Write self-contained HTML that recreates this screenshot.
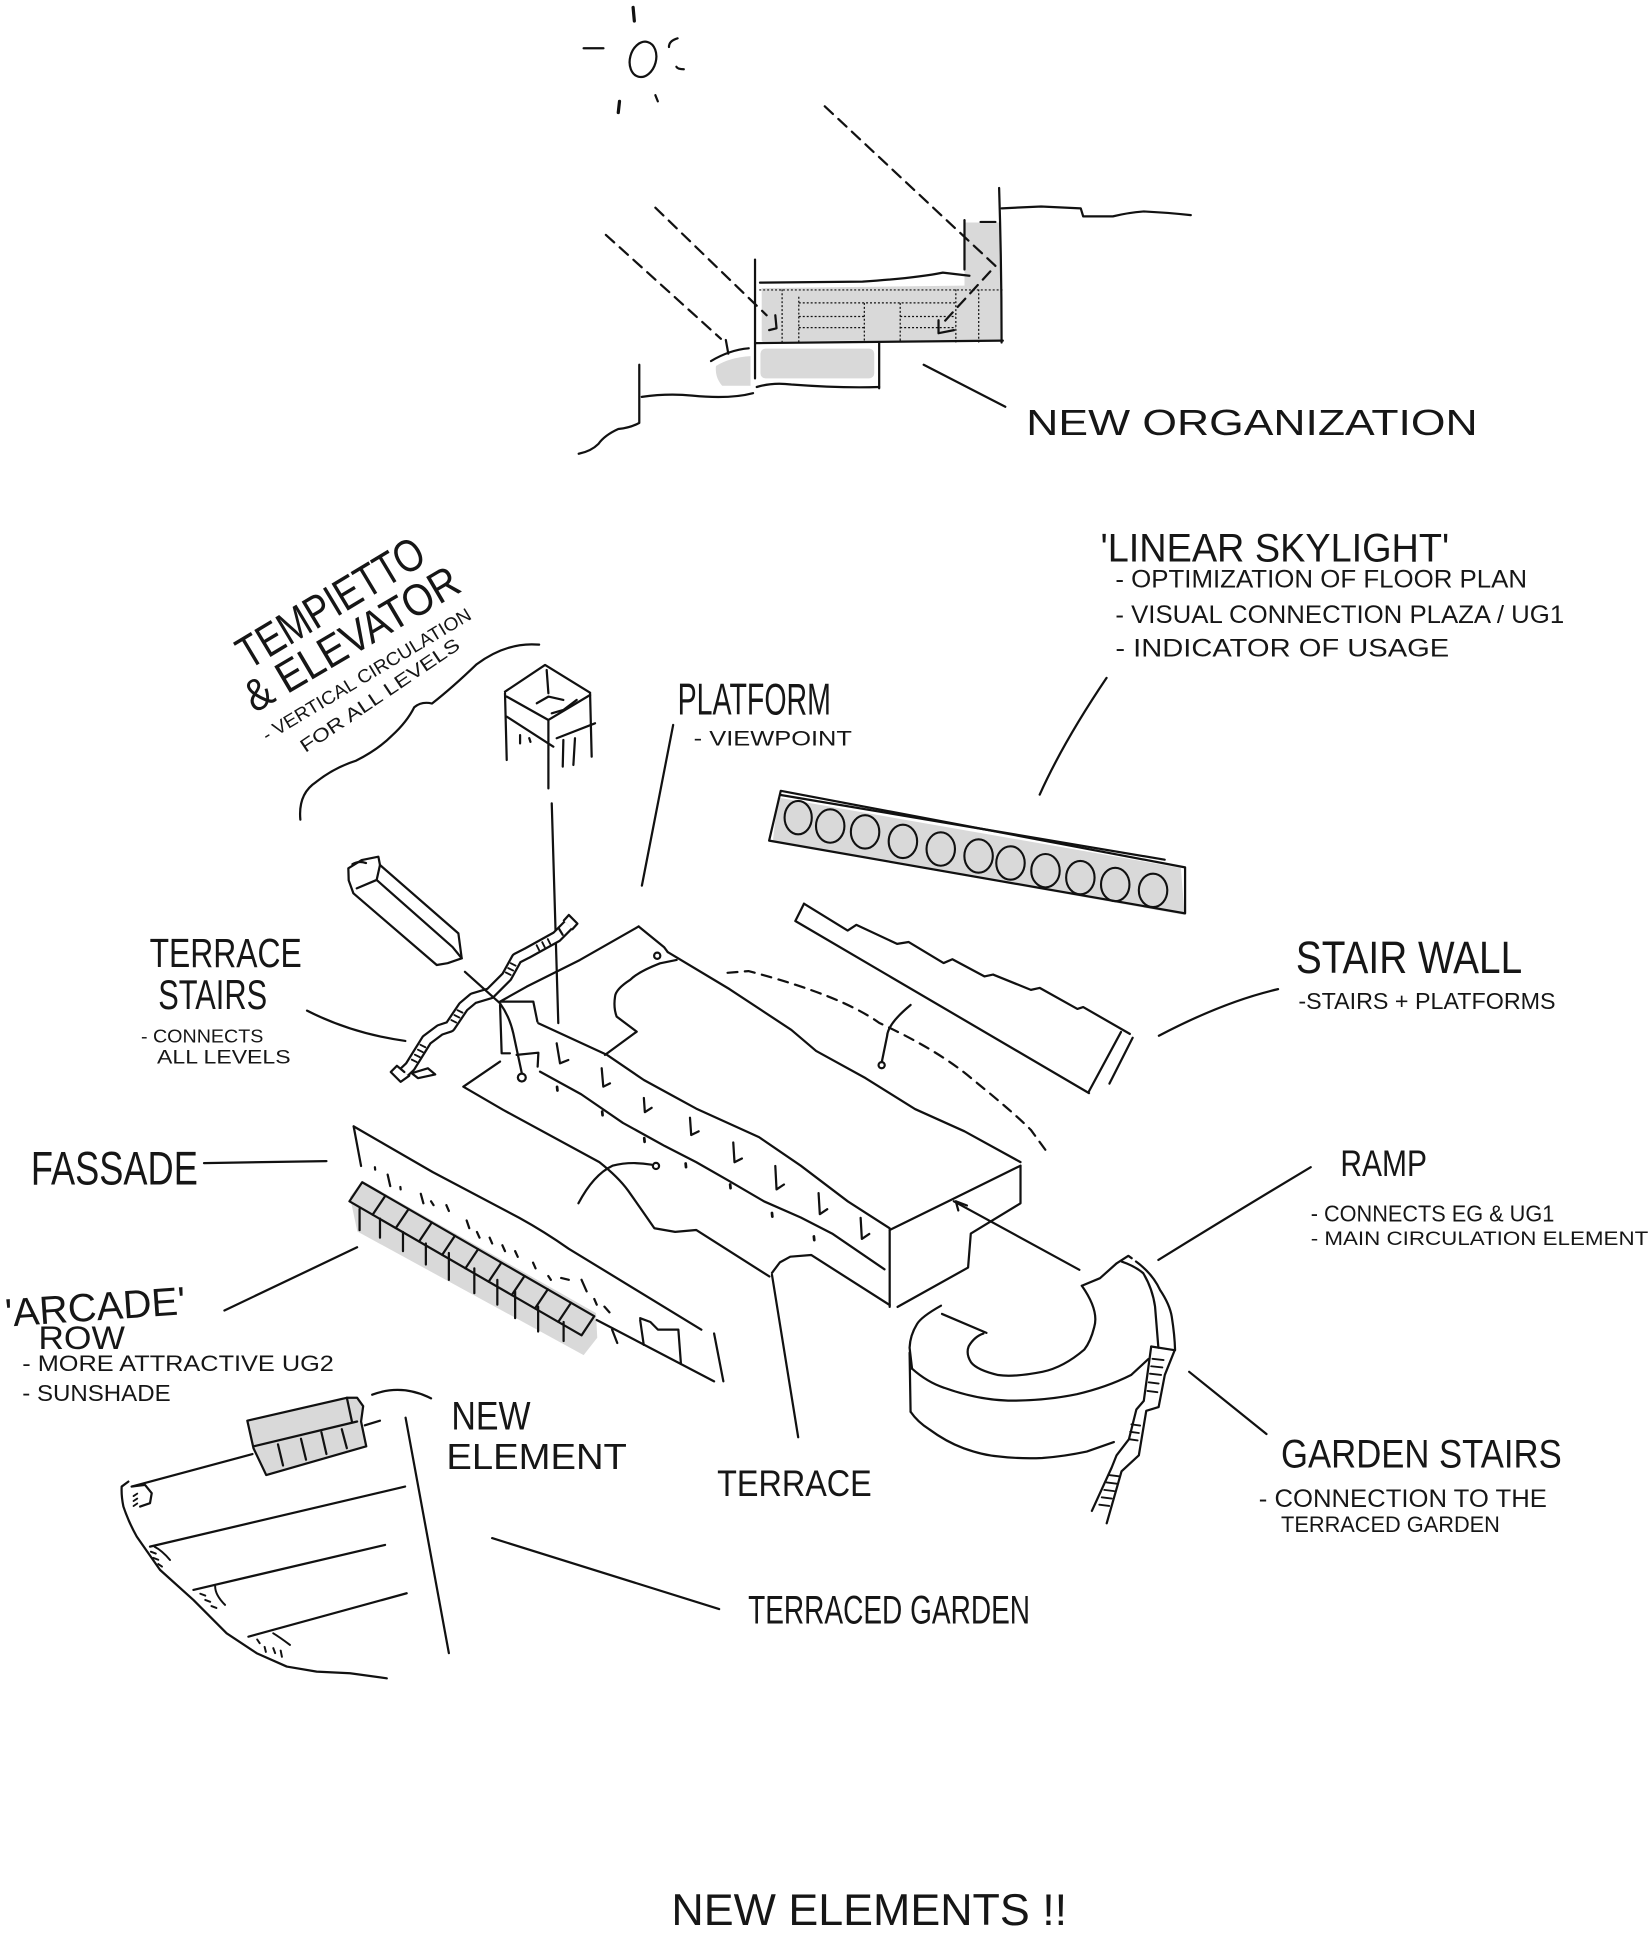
<!DOCTYPE html>
<html><head><meta charset="utf-8">
<style>
html,body{margin:0;padding:0;background:#fff;}
svg{display:block;}
text{font-family:"Liberation Sans",sans-serif;fill:#161616;}
</style></head><body>
<svg width="1652" height="1935" viewBox="0 0 1336 1565" preserveAspectRatio="none" xmlns="http://www.w3.org/2000/svg">
<rect x="0" y="0" width="1336" height="1565" fill="#fff"/>

<!-- gray fills -->
<g fill="#d9d9d9" stroke="none">
  <path d="M616,233 L780,231 L780,180 L809,180 L809,275 L616,276 Z"/>
  <rect x="615" y="282" width="92" height="24" rx="4"/>
  <path d="M579,296 Q590,289 607,288 L607,312 L584,312 Q578,305 579,296 Z"/>
  <path d="M629,645 L955,702 L958,740 L625,681 Z"/>
  <path d="M283,968 L293,955 L482,1062 L483,1082 L472,1096 L289,996 Z"/>
  <path d="M200,1149 L280.5,1130.5 L288.8,1130.5 L293.7,1137.3 L292,1149.7 L296.2,1169.8 L215.3,1193 L205,1171.3 Z"/>
</g>

<g fill="none" stroke="#111" stroke-width="1.8" stroke-linecap="round" stroke-linejoin="round">

<!-- ===== TOP SECTION ===== -->
<!-- sun -->
<ellipse cx="520" cy="48" rx="10.5" ry="14.5" transform="rotate(15 520 48)"/>
<path d="M512,6 L513,17" stroke-width="2.6"/>
<path d="M472,39 L488,39"/>
<path d="M548,31 Q541,33 541,38"/>
<path d="M547,54 Q548,56 553,56"/>
<path d="M501,82 L500,91" stroke-width="2.6"/>
<path d="M530,77 L532,82"/>

<!-- sun rays dashed -->
<g stroke-dasharray="9 6">
  <path d="M667,86 L805,215 L761,263"/>
  <path d="M530,168 L620,255"/>
  <path d="M490,190 L583,274"/>
</g>
<path d="M759,259 L759,269.5 L771.5,267"/>
<path d="M627,255 L628,265.5 L622,267"/>
<path d="M587,275 L589,286"/>
<path d="M575,292 Q590,283 605.5,281.7"/>

<!-- building -->
<path d="M808,152 Q810,215 810,277"/>
<path d="M810,168.5 L842,167 L874,168.5 L876,175 L900,175 Q912,172 925,171 Q945,172 963,174"/>
<path d="M780,178 L780,218"/>
<path d="M793,179.5 L805,179.5"/>
<path d="M614.6,228.6 L697.5,227.8 Q740,225 762.5,220.5 L784,223"/>
<path d="M610.6,210 L610.6,306"/>
<path d="M610.6,277.5 L811,275.5"/>
<path d="M711,277 L711,314"/>
<path d="M612,313 Q625,309 640,311 Q680,314 711,313"/>
<path d="M517,295 L517,342 Q510,346 500,347 Q489,352 484,359 Q478,365 468,367"/>
<path d="M519,321 Q540,318 560,320 Q590,323 609,318"/>
<path d="M747,295 L813,329"/>
<path d="M614,234.5 L811,234.5 M632.5,234 V277 M646,240 V277 M699,245 V277 M728,245 V277 M773,234 V277 M791.5,234 V277 M646,245 H773 M646,256 H699 M728,256 H773 M646,265 H699 M728,265 H773" stroke-width="1" stroke-dasharray="1.6 1.6" stroke-linecap="butt"/>

<!-- ===== TEMPIETTO ===== -->
<path d="M408.4,559.4 L440.8,537.8 L477.2,560.2"/>
<path d="M409.8,563.4 L443.5,582.3 L477.2,562.1"/>
<path d="M442.1,541.9 L443.5,560.7 M434.1,568.8 L443.5,563.4 L455.6,566.1 M446.2,576.9 L455.6,574.2 L466.4,566.1"/>
<path d="M408.4,560.7 L409.8,614.7 M443.5,582.3 L443.5,637.6 M477.2,560.7 L478.5,612"/>
<path d="M409.8,579.6 L447.5,603.9 M450.2,597.1 L481.2,585"/>
<path d="M420.6,594.5 L420.6,601.2 M428,597 L429,600 M455.6,598.5 L455.1,620 M465,597.1 L463.7,618.7"/>
<path d="M446.2,649.7 L451.5,827.5"/>
<path d="M242.9,662.9 Q241,642 255.6,632.5 Q270,621 288,615.2 Q306,606 316.9,595 Q329,584 335,572 Q341,567 349.4,569 Q366,556 385.5,537.2 Q410,519 436,521.4"/>

<!-- rail element -->
<path d="M292.5,695.6 L306,692.9 L307.3,699.6 L370.7,754.9 L373.4,775.1 L362,779 L353.2,780.5 L285.8,722.5 L282,712 L281.7,702.3 Z"/>
<path d="M288.5,718.5 L304.6,711.7 L307.3,699.6 M304.6,711.7 L366,766 L373.4,775.1"/>
<path d="M285,699 Q290,696 296,698"/>

<!-- terrace stairs band -->
<path d="M459.6,748.1 L450.2,757.6 L426,771 L417.9,775.1 L409.8,789.9 L396.3,803.4 L382.8,807.4 L374.7,814.2 L363.9,830.3 L355.8,833 L345,841.1 L331.6,862.7 L327,867" stroke-width="10" stroke-linecap="butt" stroke-linejoin="round"/>
<path d="M459.6,748.1 L450.2,757.6 L426,771 L417.9,775.1 L409.8,789.9 L396.3,803.4 L382.8,807.4 L374.7,814.2 L363.9,830.3 L355.8,833 L345,841.1 L331.6,862.7 L327,867" stroke="#fff" stroke-width="6.4" stroke-linecap="butt" stroke-linejoin="round"/>
<path d="M456,744.5 L460,740 L467,747 L463,751.5"/>
<path d="M327,867 L321,862 L316,867 L324,875 L331,870"/>
<path d="M333,868 L346,864 L352,869 L338,872 Z"/>
<path d="M443,759.5 L445,763.5 M438.5,762 L440.5,766 M434,764.5 L436,768.5 M413,779 L417,781 M411,783 L415,785 M409,786.5 L413,788.5 M370,817 L374,819 M367.5,821 L371.5,823 M365,825 L369,827 M340,845 L344,847 M338,849 L342,851 M335.5,853 L339.5,855 M333,857 L337,859" stroke-width="1.5"/>
<path d="M452,751 L455,756"/>
<!-- crossing line -->
<path d="M376,786 L404.4,811.5 Q412,822 415.1,835.7 L421.9,867.5"/>
<circle cx="422" cy="871.5" r="3.2"/>

<!-- ===== PLATFORM SLAB ===== -->
<path d="M516.5,749.3 L469,776.4 L425.9,798 L404.4,810.1 L431.3,810.1 L434.6,826.3"/>
<path d="M404.4,812.8 L405.7,851.9 L412.4,851.9 M417.8,853.2 L435.4,851.4 L434.8,862.7"/>
<path d="M516.5,749.3 L537,766 L540,770"/>
<circle cx="531.5" cy="773" r="2.5"/>
<path d="M540,770 L590,800 L640,833 L660,850 L700,872 L740,897 L780,915 L825.3,939.9"/>
<path d="M547.2,776.4 L533.8,779.1 Q516,786 509.5,792.6 Q498,800 497.4,806 Q496,815 498.7,822.2 L514.9,834.4 L489.3,853.2"/>
<path d="M435.4,827.6 L491.1,853.3 L520.7,873.5 L541.8,885 L563,896.6 L613.8,919.7 L647.6,942.8 L685.7,971.7 L719.5,993.4"/>
<path d="M719.5,994.8 L770,970 L825.3,942.8"/>
<path d="M436.7,866.7 L470,885 L503.8,908.2 L537.6,926.9 L563,939.9 L588.4,954.4 L618,971.7 L647.6,984.7 L673,997.7 L715.3,1026.6"/>
<path d="M719.5,994.8 L719.5,1057"/>
<path d="M825.3,942.8 L825.3,973.2 L785.1,997.7 L782.9,1025.2 L725.9,1057"/>
<path d="M624.3,1029.5 L630.7,1021 L639.1,1016.4 L656,1015 L719.5,1055.5"/>
<!-- terrace -->
<path d="M404.4,858.6 L374.7,878.9 L407,897.7 L484.7,939.9 Q500,952 508,963 Q520,980 529.2,993.4 L546,996.3 L563,994.8 L622.2,1032.4"/>
<path d="M467.8,973.2 Q480,950 495.3,942.8 Q510,939 527,942"/>
<circle cx="530.5" cy="943" r="2.5"/>
<path d="M624.3,1031 L645.5,1162.4"/>
<!-- L marks -->
<path d="M450.2,843.8 L452.9,860 L459.6,857.3 M486.6,864 L487.9,878.9 L493.3,876.2 M520.7,888 L521.5,899.5 L527,896 M558,904 L559,918 L565,915 M593,924 L594,940 L600,937 M627,943 L628,962 L634,958 M662,965 L663,982 L669,978 M696,985 L697,1002 L703,998"/>
<path d="M450.5,879 L450.8,882 M487,899 L487.3,902 M521,920.5 L521.3,923.5 M554.5,941 L554.8,944 M590.5,958 L590.8,961 M624.3,981 L624.6,984 M658.2,1000 L658.5,1003" stroke-width="2.2"/>
<!-- dashed arc -->
<path d="M588.4,786.8 L605.3,785.4 Q680,805 711,827.3 Q760,850 787.2,873.5 Q820,900 833.7,913.9 L846.4,931.3" stroke-dasharray="8 6"/>
<path d="M736.4,812.8 Q718,828 717.4,838 L713.2,858.5"/>
<circle cx="713" cy="861.5" r="2.5"/>

<!-- ===== STAIR WALL ===== -->
<path d="M650.2,730.9 L685.5,752.6 L692.6,748 L725.5,763.4 L734.9,761.9 L763.1,778.9 L770.2,775.8 L796.1,789.7 L803.1,788.2 L833.7,800.6 L840.8,799 L871.3,816 L876,814.5 L913.7,836.2"/>
<path d="M650.2,730.9 L643.2,744.9 L880.7,884.1"/>
<path d="M906.6,834.6 L880.7,882.6 M916,839.3 L897.2,876.4"/>

<!-- ===== SKYLIGHT ===== -->
<path d="M631.4,639.6 L958.4,701.5 L958.4,738.7 L622,679.9 Z"/>
<path d="M631.4,643 L941.9,695.3"/>
<g stroke-width="1.7">
<ellipse cx="645.5" cy="661.3" rx="11" ry="13.5"/>
<ellipse cx="671.4" cy="668.1" rx="11.5" ry="13.5"/>
<ellipse cx="699.6" cy="672.8" rx="11.5" ry="13.5"/>
<ellipse cx="730.2" cy="680.5" rx="11.5" ry="13.5"/>
<ellipse cx="760.8" cy="686.7" rx="11.5" ry="13.5"/>
<ellipse cx="791.4" cy="692.3" rx="11.5" ry="13.5"/>
<ellipse cx="817.2" cy="698" rx="11.5" ry="13.5"/>
<ellipse cx="845.5" cy="704.2" rx="11.5" ry="13.5"/>
<ellipse cx="873.7" cy="709.8" rx="11.5" ry="13.5"/>
<ellipse cx="901.9" cy="715.4" rx="11.5" ry="13.5"/>
<ellipse cx="932.5" cy="720.1" rx="11.5" ry="13.5"/>
</g>

<!-- ===== FASSADE ===== -->
<path d="M286,911 L350,948 L420,985 Q440,996 460,1010 L567.2,1075.4"/>
<path d="M286,911 L292,943"/>
<path d="M482.6,1067.6 L577.5,1117.2"/>
<path d="M577.5,1078.5 L585,1117.2"/>
<path d="M517.7,1067.6 L520.6,1087.7 M517.7,1066.1 L526,1069.2 L532.1,1075.4 L548.6,1075.4 L550.7,1103.2"/>
<path d="M303.2,944 L303.4,946 M313.5,950 L315.6,959.3 M323.8,960 L324,962 M340.3,965.5 L342.4,973.2 M348.6,971.6 L350.6,974.7 M361,974.7 L363,979.4 M377.4,987.1 L379.5,993.3 M385.7,996.4 L387.8,1001 M396,1001 L398,1005.7 M406.3,1007.2 L408.4,1011.9 M416.6,1011.9 L418.7,1016.5 M431.1,1021.2 L433.1,1025.8 M443.4,1032 L445.5,1035.1 M453.8,1033.6 L460,1035.1 M470.3,1035.1 L474.4,1044.4 M480.6,1050.6 L482.6,1055.2 M488.8,1056.8 L492.9,1061.4 M495,1075.4 L499.2,1086.2"/>

<!-- ===== ARCADE ===== -->
<path d="M292.9,956.2 L480.6,1064.5 L470.3,1080 L282.6,971.6 Z"/>
<path d="M311.7,967 L301.4,982.4 M330.4,977.9 L320.1,993.2 M349.2,988.7 L338.9,1004.1 M367.9,999.5 L357.6,1014.9 M386.7,1010.3 L376.4,1025.8 M405.5,1021.2 L395.2,1036.6 M424.2,1032 L413.9,1047.4 M443,1042.8 L432.7,1058.2 M461.8,1053.7 L451.5,1069.1"/>
<path d="M290.8,977.8 L290.8,994.9 M307.3,985.6 L307.3,1001 M325.9,996.4 L325.9,1011.9 M344.4,1005.7 L344.4,1022.7 M363,1013.4 L363,1035.1 M383.6,1025.8 L383.6,1045.9 M402.2,1035.1 L402.2,1055.2 M416.6,1044.4 L416.6,1066.1 M435.2,1056.8 L435.2,1076.9 M455.8,1069.2 L455.8,1084.6"/>

<!-- ===== NEW ELEMENT ===== -->
<path d="M200,1149 L280.5,1130.5 L288.8,1130.5 L293.7,1137.3 L292,1149.7 L296.2,1169.8 L215.3,1193 L205,1171.3 Z"/>
<path d="M205,1169.8 L288.8,1149.7 M280.5,1130.5 L284.6,1149.7"/>
<path d="M224.8,1168.2 L228.9,1185.3 M243.4,1163.6 L247.5,1180.6 M259.9,1158.3 L264,1176 M276.4,1155.9 L280.5,1171.3"/>
<path d="M204.2,1176 L106.5,1202.3"/>
<path d="M295,1152.8 L307.3,1149"/>
<path d="M301,1128 Q325,1119 348.6,1131"/>
<path d="M328,1146.6 L363,1337"/>

<!-- ===== TERRACED GARDEN ===== -->
<path d="M103.8,1198.3 L98.4,1202.3 Q98,1210 99.8,1218.5 Q104,1231 110.6,1242.8 L129.4,1269.7 L156.4,1294 L183.3,1321 L207.6,1337.1 L231.9,1347.9 L256.1,1352 L283.1,1353.3 L312.8,1357.4"/>
<path d="M121.3,1250.9 L327.6,1202.3"/>
<path d="M156.4,1285.9 L311.4,1249.5"/>
<path d="M200.9,1323.7 L328.9,1288.6"/>
<path d="M106.5,1202.3 L117.3,1201 L122.7,1207.7 L121.3,1215.8 L113.3,1218.5"/>
<path d="M108,1218 L111,1216 M108,1214 L111,1212 M108,1210 L111,1208" stroke-width="1.5"/>
<path d="M125,1251 Q131,1254 137.5,1261.7 M122,1255 L126,1256.5 M124,1260 L128,1261.5 M128,1265 L131,1267" stroke-width="1.6"/>
<path d="M174,1283 Q174,1290 182,1298 M162,1289 L166,1290.5 M166,1294 L170,1295.5 M171,1299 L175,1300.5" stroke-width="1.6"/>
<path d="M221,1321 Q226,1324 234.5,1330.4 M208,1326 L210,1329 M214,1332 L215,1336 M221,1333 L222.5,1337 M227,1335 L228,1340" stroke-width="1.6"/>
<path d="M398,1244 L581.6,1301.4"/>

<!-- ===== RAMP ===== -->
<path d="M771.4,971.6 L872.9,1027"/>
<path d="M773,971.6 L782,975 M773,971.6 L775,979"/>
<path d="M761.8,1062.7 L797.8,1078"/>
<path d="M874.9,1039.9 L889.6,1033.8 L903.1,1021.7 L912.5,1015.7 L915.2,1017.6"/>
<path d="M874.9,1039.9 Q889,1060 884.9,1073.4 Q882,1085 876.9,1091.5 Q860,1106 843,1109.5 Q820,1114 807.2,1112.1 Q790,1108 785.3,1101.8 Q781,1095 783.4,1088.9 Q788,1081 795.3,1078.6"/>
<path d="M761,1056 Q745,1065 741.6,1070.9 Q736,1080 735.6,1090 L737.6,1107"/>
<path d="M918.7,1020.3 Q932,1030 938.1,1043.2 Q946,1055 947.6,1064.8 Q950,1080 950.3,1092"/>
<path d="M907.1,1020.3 Q918,1024 924.6,1029.8 Q932,1042 934.1,1056.7 L936.8,1090"/>
<path d="M737.6,1107 Q750,1118 763.5,1122.4 Q790,1132 815.2,1132.8 Q845,1133 870.9,1127.6 Q895,1122 914.7,1112.1 L928.7,1099.2"/>
<path d="M735.6,1094 L736.4,1141.8"/>
<path d="M736.4,1141.8 Q742,1150 751.5,1156 Q765,1166 779.4,1171.4 Q795,1177 807.2,1177.9 Q825,1180 843,1179.2 Q860,1178 878.9,1174 L900.8,1166.3"/>
<!-- garden stairs -->
<path d="M931,1089 L925,1133 L919,1140 L913,1164 L903,1177 L899,1187 L883,1222"/>
<path d="M950,1092 L942,1112 L937,1138 L927,1141 L921,1177 L907,1190 L895,1232"/>
<path d="M931,1089 L950,1092"/>
<path d="M932,1099 L941,1100 M931,1105 L940,1106 M930,1111 L939,1112 M929,1118 L937,1119 M928,1125 L936,1126 M915,1152 L922,1153 M914,1158 L921,1159 M913,1164 L920,1165 M897,1193 L905,1194 M895,1199 L903,1200 M893,1205 L901,1206 M891,1211 L899,1212 M889,1217 L897,1218" stroke-width="1.5"/>

<!-- ===== LEADERS ===== -->
<path d="M248.3,817.4 Q285,836 327.8,841.9"/>
<path d="M544.4,586.3 L519.1,716.3"/>
<path d="M894.9,548.3 Q860,600 840.8,642.7"/>
<path d="M937.2,837.7 Q990,810 1033.6,800"/>
<path d="M936.8,1019 Q1000,980 1060,944"/>
<path d="M961.7,1109.5 L1024.2,1159.8"/>
<path d="M165,940.7 L264,939.1"/>
<path d="M181.5,1059.9 L288.8,1008.8"/>
</g>

<!-- ===== TEXT ===== -->
<text x="830" y="352" font-size="29" textLength="365" lengthAdjust="spacingAndGlyphs">NEW ORGANIZATION</text>

<text transform="translate(201,542) rotate(-31)" font-size="37" textLength="170" lengthAdjust="spacingAndGlyphs">TEMPIETTO</text>
<text transform="translate(206,577) rotate(-30.5)" font-size="36" textLength="196" lengthAdjust="spacingAndGlyphs">&amp; ELEVATOR</text>
<text transform="translate(216,600) rotate(-31)" font-size="15" textLength="194" lengthAdjust="spacingAndGlyphs">- VERTICAL CIRCULATION</text>
<text transform="translate(247,609) rotate(-34)" font-size="15" textLength="152" lengthAdjust="spacingAndGlyphs">FOR ALL LEVELS</text>

<text x="548" y="578" font-size="36" textLength="124" lengthAdjust="spacingAndGlyphs">PLATFORM</text>
<text x="561" y="603" font-size="17" textLength="128" lengthAdjust="spacingAndGlyphs">- VIEWPOINT</text>

<text x="890" y="454" font-size="32" textLength="282" lengthAdjust="spacingAndGlyphs">'LINEAR SKYLIGHT'</text>
<text x="902" y="475" font-size="20" textLength="333" lengthAdjust="spacingAndGlyphs">- OPTIMIZATION OF FLOOR PLAN</text>
<text x="902" y="504" font-size="20" textLength="363" lengthAdjust="spacingAndGlyphs">- VISUAL CONNECTION PLAZA / UG1</text>
<text x="902" y="531" font-size="20" textLength="270" lengthAdjust="spacingAndGlyphs">- INDICATOR OF USAGE</text>

<text x="121" y="782" font-size="33" textLength="123" lengthAdjust="spacingAndGlyphs">TERRACE</text>
<text x="128" y="816" font-size="34" textLength="88" lengthAdjust="spacingAndGlyphs">STAIRS</text>
<text x="114" y="843" font-size="15" textLength="99" lengthAdjust="spacingAndGlyphs">- CONNECTS</text>
<text x="127" y="860" font-size="16" textLength="108" lengthAdjust="spacingAndGlyphs">ALL LEVELS</text>

<text x="1048" y="787" font-size="37" textLength="183" lengthAdjust="spacingAndGlyphs">STAIR WALL</text>
<text x="1050" y="816" font-size="19" textLength="208" lengthAdjust="spacingAndGlyphs">-STAIRS + PLATFORMS</text>

<text x="25" y="958" font-size="38" textLength="135" lengthAdjust="spacingAndGlyphs">FASSADE</text>

<text transform="translate(5,1073) rotate(-4)" font-size="32" textLength="146" lengthAdjust="spacingAndGlyphs">'ARCADE'</text>
<text x="31" y="1091" font-size="26" textLength="70" lengthAdjust="spacingAndGlyphs">ROW</text>
<text x="18" y="1109" font-size="18" textLength="252" lengthAdjust="spacingAndGlyphs">- MORE ATTRACTIVE UG2</text>
<text x="18" y="1133" font-size="19" textLength="120" lengthAdjust="spacingAndGlyphs">- SUNSHADE</text>

<text x="365" y="1156" font-size="32" textLength="64" lengthAdjust="spacingAndGlyphs">NEW</text>
<text x="361" y="1188" font-size="29" textLength="146" lengthAdjust="spacingAndGlyphs">ELEMENT</text>

<text x="580" y="1210" font-size="30" textLength="125" lengthAdjust="spacingAndGlyphs">TERRACE</text>
<text x="605" y="1313" font-size="32" textLength="228" lengthAdjust="spacingAndGlyphs">TERRACED GARDEN</text>

<text x="1084" y="951" font-size="30" textLength="70" lengthAdjust="spacingAndGlyphs">RAMP</text>
<text x="1060" y="988" font-size="19" textLength="197" lengthAdjust="spacingAndGlyphs">- CONNECTS EG &amp; UG1</text>
<text x="1060" y="1007" font-size="16" textLength="273" lengthAdjust="spacingAndGlyphs">- MAIN CIRCULATION ELEMENT</text>

<text x="1036" y="1187" font-size="32" textLength="227" lengthAdjust="spacingAndGlyphs">GARDEN STAIRS</text>
<text x="1018" y="1219" font-size="20" textLength="233" lengthAdjust="spacingAndGlyphs">- CONNECTION TO THE</text>
<text x="1036" y="1239" font-size="18" textLength="177" lengthAdjust="spacingAndGlyphs">TERRACED GARDEN</text>

<text x="543" y="1557" font-size="36" textLength="320" lengthAdjust="spacingAndGlyphs">NEW ELEMENTS !!</text>
</svg>
</body></html>
